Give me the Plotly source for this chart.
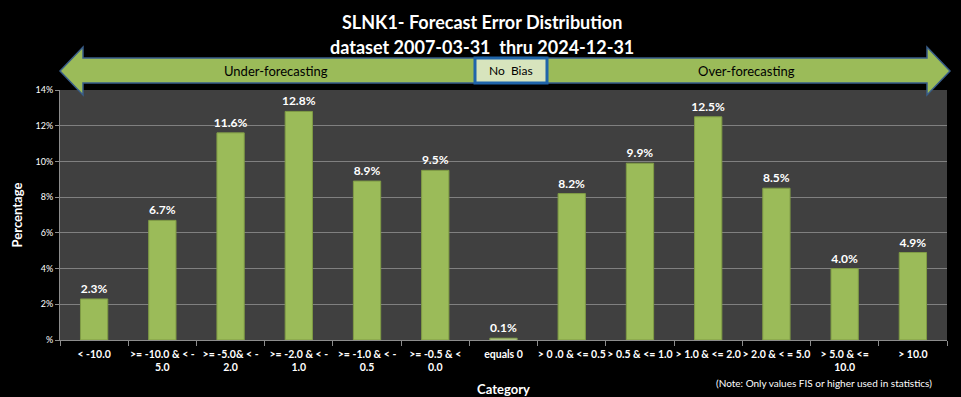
import plotly.graph_objects as go

categories = [
    "< -10.0", ">= -10.0 & < -<br>5.0", ">= -5.0& < -<br>2.0", ">= -2.0 & < -<br>1.0",
    ">= -1.0 & < -<br>0.5", ">= -0.5 & <<br>0.0", "equals 0", "> 0 .0 & <= 0.5",
    "> 0.5 & <= 1.0", "> 1.0 & <= 2.0", "> 2.0 & < = 5.0", "> 5.0 & <=<br>10.0", "> 10.0",
]
percentages = [2.3, 6.7, 11.6, 12.8, 8.9, 9.5, 0.1, 8.2, 9.9, 12.5, 8.5, 4.0, 4.9]
y_tick_values = [0, 2, 4, 6, 8, 10, 12, 14]
y_tick_labels = ["%", "2%", "4%", "6%", "8%", "10%", "12%", "14%"]

W, H = 961, 397
L, R, T, B = 60, 14, 90, 57
PW, PH = W - L - R, H - T - B
FONT = "Lato"


def px(x):
    return (x - L) / PW


def py(y):
    return (H - B - y) / PH


def path(points):
    return "M " + " L ".join(f"{px(a):.5f},{py(b):.5f}" for a, b in points) + " Z"


bar_colors = ["#9BBB59" if v >= 0.5 else "#D7E4BD" for v in percentages]

fig = go.Figure(
    go.Bar(
        x=categories,
        y=percentages,
        width=0.4,
        marker=dict(color=bar_colors, line=dict(color="#7F9B45", width=1)),
        text=[f"{v:.1f}%" for v in percentages],
        textposition="outside",
        constraintext="none",
        textfont=dict(family=FONT, size=12, color="white", weight="bold"),
        cliponaxis=False,
        hoverinfo="skip",
    )
)

left_arrow = [(60, 71), (83, 47), (83, 58), (475, 58), (475, 83), (83, 83), (83, 95)]
right_arrow = [(547, 58), (927, 58), (927, 47), (950, 71), (927, 95), (927, 83), (547, 83)]

shapes = [
    dict(type="path", xref="paper", yref="paper", path=path(left_arrow),
         fillcolor="#9BBB59", line=dict(color="#385D8A", width=1.5), layer="above"),
    dict(type="path", xref="paper", yref="paper", path=path(right_arrow),
         fillcolor="#9BBB59", line=dict(color="#385D8A", width=1.5), layer="above"),
    dict(type="rect", xref="paper", yref="paper", x0=px(475), x1=px(547), y0=py(83), y1=py(58),
         fillcolor="#D7E4BD", line=dict(color="#1F64AA", width=3), layer="above"),
]

annotations = [
    dict(text="<b>SLNK1- Forecast Error Distribution</b>", x=px(482), y=py(22),
         font=dict(family=FONT, size=18, color="white")),
    dict(text="<b>dataset 2007-03-31  thru 2024-12-31</b>", x=px(482), y=py(47),
         font=dict(family=FONT, size=18, color="white")),
    dict(text="Under-forecasting", x=px(276), y=py(71),
         font=dict(family=FONT, size=13, color="black")),
    dict(text="Over-forecasting", x=px(746), y=py(71),
         font=dict(family=FONT, size=13, color="black")),
    dict(text="No  Bias", x=px(511), y=py(71),
         font=dict(family=FONT, size=12, color="black")),
    dict(text="(Note: Only values FIS or higher used in statistics)", x=px(824), y=py(383),
         font=dict(family=FONT, size=10, color="white")),
]
for a in annotations:
    a.update(xref="paper", yref="paper", showarrow=False, xanchor="center", yanchor="middle")

fig.update_layout(
    width=W, height=H,
    margin=dict(l=L, r=R, t=T, b=B, pad=0),
    paper_bgcolor="black",
    plot_bgcolor="#404040",
    showlegend=False,
    bargap=0.6,
    shapes=shapes,
    annotations=annotations,
    font=dict(family=FONT, color="white"),
)
fig.update_xaxes(
    automargin=False,
    tickson="boundaries", ticks="outside", ticklen=5, tickcolor="#8C8C8C",
    showline=True, linecolor="#8C8C8C", linewidth=1,
    tickfont=dict(family=FONT, size=10.5, color="white", weight="bold"),
    ticklabelstandoff=4,
    tickangle=0,
    title=dict(text="<b>Category</b>", font=dict(family=FONT, size=13, color="white"), standoff=12),
    showgrid=False,
)
fig.update_yaxes(
    automargin=False,
    range=[0, 14], tickvals=y_tick_values, ticktext=y_tick_labels,
    ticks="outside", ticklen=4, tickcolor="#8C8C8C",
    showline=True, linecolor="#8C8C8C", linewidth=1,
    gridcolor="#808080", gridwidth=1, zeroline=False,
    tickfont=dict(family=FONT, size=9, color="white"),
    title=dict(text="<b>Percentage</b>", font=dict(family=FONT, size=13, color="white"), standoff=9),
)

fig.write_html("out.html", config={"displayModeBar": False},
               post_script="document.body.style.margin='0';")
